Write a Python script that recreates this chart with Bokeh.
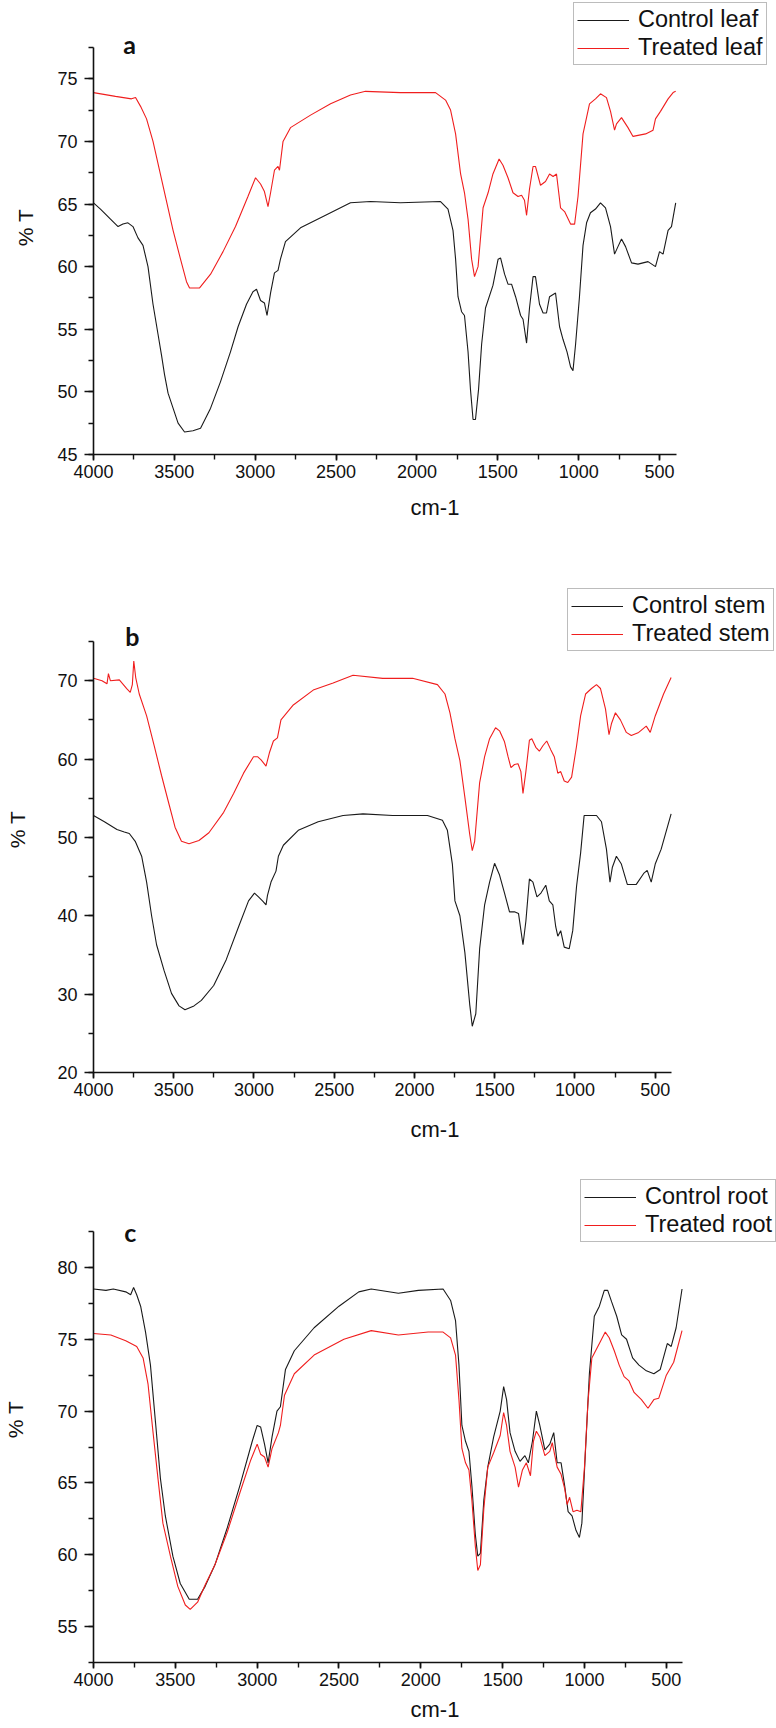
from bokeh.plotting import figure
from bokeh.layouts import column
from bokeh.models import Range1d, Legend, LegendItem, Label, SingleIntervalTicker
from bokeh.embed import file_html
from bokeh.resources import INLINE

# ---------------- Data ----------------
# Panel a: leaf
leaf_control_wn = [4000, 3957, 3895, 3848, 3818, 3787, 3756, 3725, 3694, 3663, 3632, 3601, 3579, 3561, 3539, 3508,
                   3477, 3437, 3385, 3338, 3276, 3215, 3153, 3106, 3054, 3014, 2992, 2967, 2943, 2927, 2905, 2881,
                   2859, 2844, 2813, 2720, 2565, 2411, 2287, 2102, 1854, 1808, 1777, 1761, 1746, 1724, 1706, 1684,
                   1669, 1653, 1638, 1619, 1600, 1576, 1530, 1498, 1483, 1458, 1437, 1415, 1390, 1359, 1344, 1322,
                   1304, 1282, 1267, 1242, 1220, 1199, 1180, 1143, 1118, 1097, 1072, 1050, 1035, 1019, 995, 973,
                   951, 927, 896, 865, 834, 803, 778, 757, 735, 710, 673, 633, 571, 525, 500, 478, 447, 426, 400]
leaf_control_T = [65.1, 64.6, 63.8, 63.2, 63.4, 63.5, 63.2, 62.3, 61.7, 60.0, 57.0, 54.6, 52.9, 51.4, 49.9, 48.7,
                  47.5, 46.8, 46.9, 47.1, 48.7, 50.8, 53.2, 55.2, 57.0, 58.0, 58.2, 57.3, 57.1, 56.1, 57.9, 59.5,
                  59.7, 60.6, 62.0, 63.1, 64.1, 65.1, 65.2, 65.1, 65.2, 64.6, 62.9, 60.6, 57.6, 56.4, 56.1, 53.2,
                  50.2, 47.8, 47.8, 50.2, 53.8, 56.7, 58.5, 60.6, 60.7, 59.4, 58.6, 58.6, 57.6, 56.1, 55.8, 53.9,
                  56.7, 59.2, 59.2, 57.0, 56.3, 56.3, 57.6, 57.9, 55.2, 54.2, 53.2, 52.0, 51.7, 53.8, 57.6, 61.7,
                  63.5, 64.3, 64.6, 65.1, 64.7, 63.2, 61.0, 61.6, 62.2, 61.6, 60.3, 60.2, 60.4, 60.0, 61.2, 61.0,
                  62.9, 63.2, 65.1]
leaf_treated_wn = [4000, 3864, 3765, 3740, 3709, 3672, 3632, 3592, 3555, 3508, 3462, 3425, 3406, 3344, 3276, 3199,
                   3122, 3045, 2998, 2967, 2943, 2921, 2905, 2881, 2859, 2850, 2828, 2782, 2658, 2534, 2411, 2318,
                   2102, 1885, 1823, 1792, 1761, 1730, 1706, 1684, 1662, 1644, 1622, 1591, 1560, 1530, 1492, 1468,
                   1437, 1406, 1375, 1353, 1335, 1322, 1304, 1282, 1267, 1236, 1205, 1180, 1158, 1137, 1112, 1087,
                   1050, 1025, 1004, 973, 933, 896, 865, 828, 803, 778, 766, 735, 695, 664, 586, 540, 525, 494,
                   447, 416, 400]
leaf_treated_T = [73.9, 73.6, 73.4, 73.5, 72.8, 71.8, 70.0, 67.7, 65.6, 62.9, 60.6, 58.8, 58.3, 58.3, 59.4, 61.2,
                  63.2, 65.6, 67.1, 66.6, 66.0, 64.8, 65.9, 67.7, 68.0, 67.7, 70.0, 71.1, 72.1, 73.0, 73.7, 74.0,
                  73.9, 73.9, 73.3, 72.5, 70.6, 67.4, 65.9, 63.8, 60.6, 59.2, 60.0, 64.7, 65.9, 67.4, 68.6, 68.1,
                  67.1, 65.9, 65.6, 65.7, 65.3, 64.1, 66.2, 68.0, 68.0, 66.5, 66.8, 67.4, 67.2, 67.4, 64.7, 64.4,
                  63.4, 63.4, 65.6, 70.6, 73.0, 73.4, 73.8, 73.5, 72.4, 70.9, 71.4, 71.9, 71.1, 70.4, 70.6, 70.9,
                  71.8, 72.4, 73.4, 73.9, 74.0]

# Panel b: stem
stem_control_wn = [4000, 3932, 3854, 3808, 3777, 3740, 3700, 3669, 3638, 3607, 3560, 3514, 3467, 3430, 3374, 3328,
                   3251, 3173, 3096, 3034, 2997, 2972, 2947, 2925, 2916, 2894, 2863, 2848, 2817, 2724, 2600, 2445,
                   2321, 2136, 1919, 1826, 1795, 1764, 1748, 1717, 1686, 1656, 1640, 1618, 1594, 1563, 1532, 1501,
                   1470, 1439, 1408, 1377, 1352, 1324, 1306, 1284, 1262, 1237, 1212, 1182, 1160, 1138, 1120, 1107,
                   1089, 1067, 1036, 1014, 990, 965, 943, 897, 866, 835, 804, 782, 767, 742, 711, 674, 618, 572,
                   550, 525, 500, 463, 401]
stem_control_T = [52.8, 52.0, 51.0, 50.7, 50.5, 49.5, 47.6, 44.3, 40.0, 36.3, 33.0, 30.1, 28.5, 28.0, 28.5, 29.2,
                  31.1, 34.4, 38.6, 41.9, 42.9, 42.4, 41.9, 41.4, 42.6, 44.3, 45.7, 47.6, 49.0, 50.9, 52.0, 52.8,
                  53.0, 52.8, 52.8, 52.2, 50.9, 46.6, 41.9, 40.0, 35.3, 28.7, 25.9, 27.5, 35.8, 41.4, 44.3, 46.7,
                  45.2, 42.9, 40.5, 40.5, 40.3, 36.3, 39.3, 44.7, 44.3, 42.4, 42.9, 43.9, 41.9, 41.4, 38.6, 37.4,
                  38.1, 36.0, 35.8, 38.1, 43.8, 48.0, 52.8, 52.8, 52.8, 52.0, 48.5, 44.3, 46.2, 47.6, 46.6, 44.0,
                  44.0, 45.4, 45.8, 44.3, 46.6, 48.5, 53.0]
stem_treated_wn = [4000, 3947, 3916, 3907, 3895, 3839, 3793, 3771, 3758, 3749, 3737, 3715, 3669, 3622, 3576, 3529,
                   3492, 3452, 3405, 3343, 3281, 3189, 3127, 3065, 3003, 2978, 2956, 2925, 2904, 2879, 2854, 2832,
                   2755, 2631, 2507, 2383, 2198, 2012, 1857, 1810, 1779, 1748, 1717, 1686, 1656, 1640, 1625, 1594,
                   1563, 1532, 1495, 1470, 1439, 1417, 1399, 1377, 1355, 1337, 1324, 1306, 1284, 1269, 1244, 1222,
                   1200, 1176, 1151, 1129, 1107, 1089, 1067, 1045, 1021, 990, 965, 934, 897, 866, 841, 810, 788,
                   773, 748, 717, 680, 649, 603, 556, 531, 500, 448, 401]
stem_treated_T = [70.3, 70.0, 69.6, 70.9, 70.0, 70.1, 69.0, 68.5, 69.5, 72.5, 70.4, 68.3, 65.5, 61.7, 57.9, 54.2,
                  51.3, 49.5, 49.2, 49.6, 50.6, 53.2, 55.6, 58.2, 60.3, 60.3, 59.9, 59.1, 60.8, 62.3, 62.7, 65.0,
                  66.9, 68.8, 69.7, 70.7, 70.3, 70.3, 69.5, 68.3, 65.9, 62.6, 59.8, 55.1, 50.4, 48.3, 49.5, 57.0,
                  60.3, 62.6, 64.0, 63.6, 62.2, 60.3, 58.9, 59.3, 59.4, 58.4, 55.6, 58.4, 62.4, 62.6, 61.5, 61.0,
                  61.7, 62.3, 61.2, 60.3, 58.2, 58.4, 57.2, 57.0, 57.7, 61.7, 65.5, 68.3, 69.0, 69.5, 69.0, 66.4,
                  63.1, 64.5, 65.9, 65.0, 63.4, 63.0, 63.4, 64.2, 63.4, 65.5, 68.3, 70.4]

# Panel c: root
root_control_wn = [4000, 3924, 3879, 3803, 3773, 3755, 3736, 3712, 3682, 3652, 3621, 3591, 3561, 3515, 3470, 3415,
                   3364, 3318, 3258, 3182, 3106, 3030, 3000, 2979, 2955, 2933, 2909, 2879, 2858, 2827, 2773, 2652,
                   2500, 2379, 2303, 2137, 2015, 1864, 1818, 1788, 1767, 1749, 1727, 1706, 1688, 1667, 1652, 1636,
                   1615, 1591, 1555, 1515, 1494, 1476, 1455, 1424, 1394, 1364, 1343, 1318, 1294, 1273, 1242, 1212,
                   1188, 1167, 1143, 1121, 1100, 1076, 1052, 1031, 1016, 991, 970, 940, 909, 879, 858, 834, 803,
                   773, 743, 706, 667, 622, 576, 537, 494, 470, 440, 404]
root_control_T = [78.5, 78.4, 78.5, 78.3, 78.1, 78.6, 78.1, 77.3, 75.5, 73.2, 69.2, 65.3, 62.7, 59.9, 58.0, 56.9,
                  56.9, 57.8, 59.3, 61.9, 64.8, 67.9, 69.0, 68.9, 67.7, 66.4, 68.2, 70.0, 70.3, 72.9, 74.2, 75.8,
                  77.3, 78.3, 78.5, 78.2, 78.4, 78.5, 77.7, 76.3, 73.2, 69.0, 67.9, 67.2, 64.8, 61.4, 59.9, 60.1,
                  63.8, 66.1, 68.2, 70.0, 71.7, 70.8, 68.5, 67.2, 66.5, 66.9, 66.4, 67.9, 70.0, 69.0, 67.3, 67.7,
                  68.5, 66.4, 66.4, 64.8, 63.0, 62.7, 61.7, 61.2, 62.2, 67.9, 72.6, 76.6, 77.3, 78.4, 78.4, 77.6,
                  76.6, 75.3, 75.0, 73.7, 73.2, 72.8, 72.6, 72.9, 74.7, 74.5, 75.8, 78.5]
root_treated_wn = [4000, 3894, 3803, 3736, 3697, 3667, 3636, 3606, 3576, 3530, 3485, 3439, 3409, 3364, 3318, 3258,
                   3182, 3106, 3039, 3000, 2979, 2955, 2933, 2909, 2870, 2858, 2833, 2773, 2652, 2470, 2303, 2137,
                   1955, 1864, 1818, 1788, 1767, 1749, 1727, 1706, 1688, 1667, 1652, 1636, 1615, 1591, 1555, 1515,
                   1494, 1476, 1455, 1424, 1403, 1379, 1355, 1330, 1312, 1294, 1273, 1242, 1212, 1197, 1167, 1143,
                   1121, 1106, 1091, 1070, 1046, 1022, 1000, 979, 955, 909, 873, 849, 818, 788, 758, 728, 697, 652,
                   612, 576, 546, 500, 455, 404]
root_treated_T = [75.4, 75.3, 74.9, 74.5, 73.7, 71.9, 68.5, 65.3, 62.2, 59.9, 57.8, 56.5, 56.2, 56.7, 57.9, 59.3,
                  61.6, 64.3, 66.6, 67.7, 67.0, 66.8, 66.1, 67.4, 68.5, 69.0, 71.1, 72.6, 73.9, 75.0, 75.6, 75.3,
                  75.5, 75.5, 75.1, 73.9, 70.8, 67.4, 66.4, 65.9, 63.8, 60.6, 58.9, 59.3, 63.2, 66.1, 67.1, 68.3,
                  69.9, 69.0, 67.2, 66.1, 64.7, 65.9, 66.4, 65.5, 67.9, 68.6, 68.2, 66.9, 67.2, 67.8, 66.1, 65.6,
                  64.6, 63.5, 64.0, 63.0, 63.1, 63.0, 66.1, 70.6, 73.7, 74.7, 75.5, 75.1, 74.2, 73.2, 72.4, 72.1,
                  71.3, 70.8, 70.2, 70.8, 70.9, 72.5, 73.4, 75.6]

panel_letters = ["a", "b", "c"]
legend_labels = [("Control leaf", "Treated leaf"), ("Control stem", "Treated stem"), ("Control root", "Treated root")]
y_axis_ranges = [(45, 77.5), (20, 75), (52.5, 82.5)]
y_intervals = [5, 10, 5]
x_axis_ranges = [(4000, 395), (4000, 401), (4000, 403)]
letter_positions = [(3777, 77.74), (3758, 75.64), (3776, 82.45)]

FONT = "Liberation Sans"
BLACK = "#1a1a1a"
RED = "#f01e1e"
W = 776


def make_panel(idx, ctrl_wn, ctrl_T, trt_wn, trt_T, height, frame_left, frame_right_axis, axis_top,
               frame_bottom, ylab_standoff, xlab_standoff, legend_loc):
    # pixel layout -> extended ranges so that the frame covers the whole top/right area
    x0, x1 = x_axis_ranges[idx]
    y0, y1 = y_axis_ranges[idx]
    xpp = (x0 - x1) / (frame_right_axis - frame_left)
    x_end = x1 - (W - frame_right_axis) * xpp
    ypp = (y1 - y0) / (frame_bottom - axis_top)
    y_end = y1 + axis_top * ypp

    p = figure(width=W, height=height, output_backend="svg", toolbar_location=None,
               x_range=Range1d(x0, x_end), y_range=Range1d(y0, y_end),
               min_border_left=frame_left, min_border_right=0,
               min_border_top=0, min_border_bottom=height - frame_bottom)
    p.outline_line_color = None
    p.xgrid.visible = False
    p.ygrid.visible = False
    p.background_fill_color = "white"
    p.border_fill_color = "white"

    r_c = p.line(ctrl_wn, ctrl_T, line_color=BLACK, line_width=1.1)
    r_t = p.line(trt_wn, trt_T, line_color=RED, line_width=1.1)

    p.xaxis.ticker = SingleIntervalTicker(interval=500, num_minor_ticks=2)
    p.yaxis.ticker = SingleIntervalTicker(interval=y_intervals[idx], num_minor_ticks=2)
    p.xaxis.bounds = (x1, x0)
    p.yaxis.bounds = (y0, y1)

    for ax in (p.xaxis[0], p.yaxis[0]):
        ax.axis_line_width = 1.6
        ax.axis_line_color = "#111111"
        ax.major_tick_line_color = "#111111"
        ax.minor_tick_line_color = "#111111"
        ax.major_tick_line_width = 1.6
        ax.minor_tick_line_width = 1.4
        ax.major_tick_in = 0
        ax.minor_tick_in = 0
        ax.major_label_text_font = FONT
        ax.major_label_text_font_size = "18px"
        ax.major_label_text_color = "#111111"
        ax.axis_label_text_font = FONT
        ax.axis_label_text_font_style = "normal"
        ax.axis_label_text_color = "#111111"

    p.xaxis.axis_label_text_font_size = "22px"
    p.yaxis.axis_label_text_font_size = "21px"
    p.xaxis.major_tick_out = 6
    p.xaxis.minor_tick_out = 5
    p.yaxis.major_tick_out = 9
    p.yaxis.minor_tick_out = 5
    p.xaxis.major_label_standoff = 4
    p.yaxis.major_label_standoff = 7
    p.xaxis.axis_label = "cm-1"
    p.yaxis.axis_label = "% T"
    p.xaxis.axis_label_standoff = xlab_standoff
    p.yaxis.axis_label_standoff = ylab_standoff

    legend = Legend(items=[LegendItem(label=legend_labels[idx][0], renderers=[r_c]),
                           LegendItem(label=legend_labels[idx][1], renderers=[r_t])],
                    location=legend_loc)
    legend.label_text_font = FONT
    legend.label_text_font_size = "23.5px"
    legend.label_text_color = "#111111"
    legend.glyph_width = 52
    legend.glyph_height = 22
    legend.label_height = 22
    legend.label_standoff = 9
    legend.spacing = 1
    legend.padding = 3
    legend.margin = 0
    legend.border_line_color = "#7a7a7a"
    legend.border_line_width = 1.6
    legend.background_fill_alpha = 1.0
    p.add_layout(legend)

    lx, ly = letter_positions[idx]
    lab = Label(x=lx, y=ly, text=panel_letters[idx],
                text_font="Lato", text_font_style="bold", text_font_size="25px",
                text_color="#111111", text_align="center", text_baseline="middle")
    p.add_layout(lab)
    return p


pa = make_panel(0, leaf_control_wn, leaf_control_T, leaf_treated_wn, leaf_treated_T,
                height=586, frame_left=93, frame_right_axis=676, axis_top=47, frame_bottom=454,
                ylab_standoff=17, xlab_standoff=14, legend_loc=(480, 389))
pb = make_panel(1, stem_control_wn, stem_control_T, stem_treated_wn, stem_treated_T,
                height=590, frame_left=89, frame_right_axis=670, axis_top=55, frame_bottom=486,
                ylab_standoff=25, xlab_standoff=18, legend_loc=(474, 421))
pc = make_panel(2, root_control_wn, root_control_T, root_treated_wn, root_treated_T,
                height=552, frame_left=88, frame_right_axis=681, axis_top=55, frame_bottom=486,
                ylab_standoff=27, xlab_standoff=8, legend_loc=(487, 420))

layout = column(pa, pb, pc)
open("out.html", "w").write(file_html(layout, INLINE))
